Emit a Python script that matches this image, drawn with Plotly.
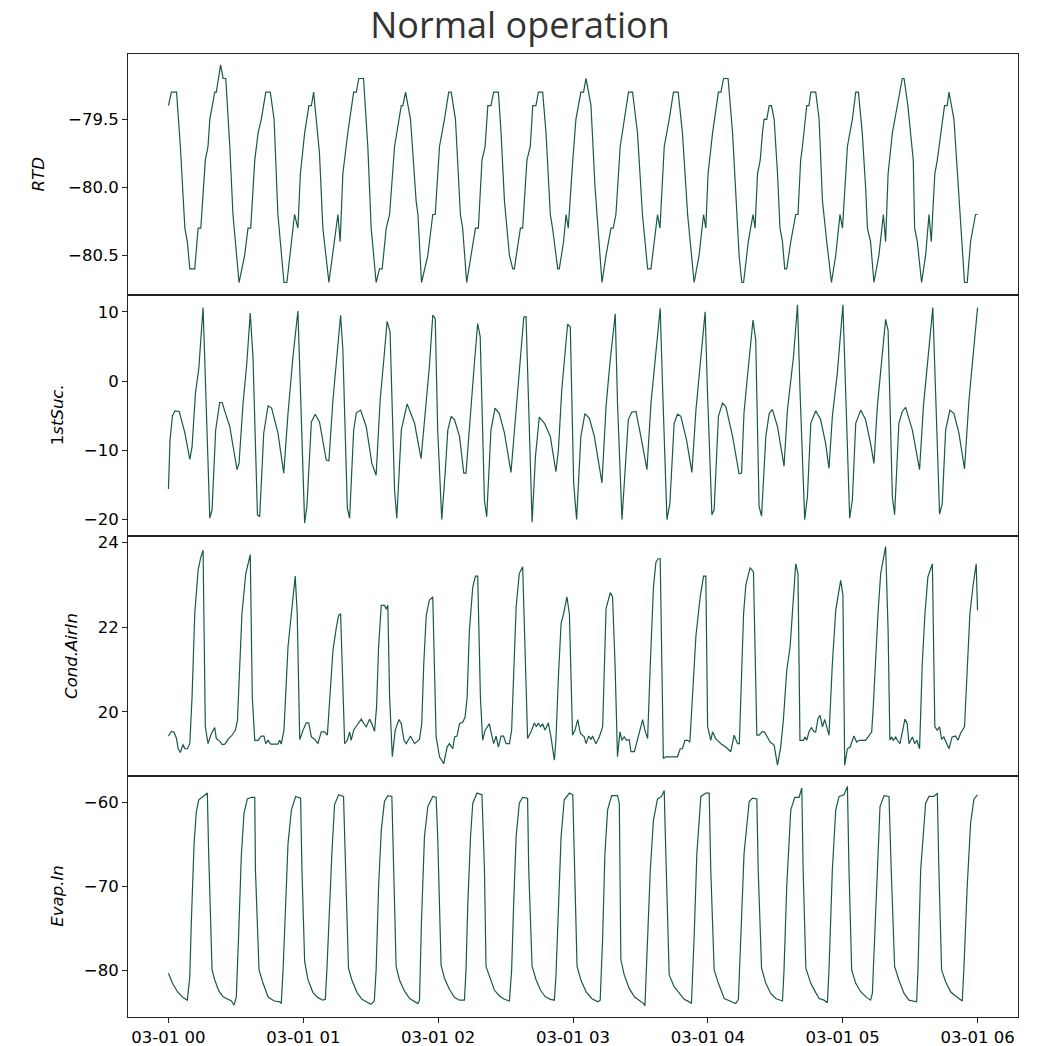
import pandas as pd
import plotly.graph_objects as go
from plotly.subplots import make_subplots

# ---------------- data (minutes after 03-01 00:00, values) ----------------
rtd_min = [0, 1.3, 3.6, 5.3, 7.3, 8.4, 9.5, 11.7, 13.2, 14.4, 16.4, 17.6, 18.4, 20.6, 21.3, 23.2, 24.3, 25.5,
           27.3, 28.7, 31.4, 33.9, 35.4, 36.6, 38.4, 39.9, 41.3, 43.3, 45.3, 47.0, 48.7, 51.4, 52.7, 54.7, 56.1,
           57.6, 58.7, 60.6, 62.5, 63.6, 64.6, 67.2, 68.7, 71.4, 73.9, 75.4, 76.4, 77.6, 79.8, 82.4, 83.6, 84.7,
           86.8, 88.7, 90.2, 92.4, 93.9, 95.1, 96.9, 98.4, 100.6, 103.6, 104.3, 105.5, 107.7, 110.2, 111.0, 112.6,
           115.4, 117.6, 118.7, 120.6, 122.8, 124.7, 125.8, 127.7, 129.9, 130.9, 132.7, 134.7, 136.6, 137.9,
           139.5, 140.9, 142.1, 143.5, 144.7, 146.8, 148.0, 149.5, 151.7, 153.2, 153.9, 156.6, 157.6, 159.5,
           161.0, 162.1, 163.5, 164.6, 166.5, 168.0, 169.9, 170.9, 173.2, 173.9, 175.8, 176.9, 177.9, 179.9,
           181.3, 183.5, 184.7, 185.8, 188.0, 189.8, 191.4, 192.9, 194.7, 196.9, 197.9, 199.1, 201.0, 202.8,
           204.7, 206.5, 208.7, 210.9, 213.2, 214.7, 216.1, 217.6, 218.7, 220.6, 222.8, 224.7, 226.8, 228.7,
           231.0, 233.9, 236.1, 238.1, 239.1, 240.1, 242.1, 244.7, 245.8, 247.0, 249.0, 251.0, 253.9, 255.1,
           255.9, 258.0, 260.1, 261.0, 262.1, 263.3, 264.3, 265.0, 266.2, 267.3, 268.3, 269.5, 271.0, 272.1,
           273.2, 274.2, 275.1, 276.9, 279.1, 280.1, 281.3, 282.1, 284.0, 285.0, 285.8, 288.0, 289.5, 291.0,
           292.9, 295.0, 296.9, 298.8, 299.9, 302.1, 304.3, 305.8, 307.0, 308.7, 310.2, 311.0, 312.4, 313.9,
           316.1, 318.1, 319.1, 320.2, 322.1, 324.3, 326.5, 327.3, 329.0, 331.4, 332.0, 333.2, 335.1, 336.9,
           338.4, 339.4, 341.0, 342.1, 343.6, 345.3, 346.5, 347.3, 349.5, 351.7, 352.4, 354.2, 355.4, 356.9,
           359.1, 360.0]
rtd_val = [-79.4, -79.3, -79.3, -79.7, -80.3, -80.4, -80.6, -80.6, -80.3, -80.3, -79.8, -79.7, -79.5, -79.3,
           -79.3, -79.1, -79.2, -79.2, -79.7, -80.2, -80.7, -80.5, -80.3, -80.3, -79.8, -79.6, -79.5, -79.3,
           -79.3, -79.5, -80.2, -80.7, -80.7, -80.4, -80.2, -80.3, -79.9, -79.6, -79.4, -79.4, -79.3, -79.75,
           -80.3, -80.7, -80.4, -80.2, -80.4, -79.9, -79.6, -79.3, -79.3, -79.2, -79.2, -79.7, -80.3, -80.7,
           -80.6, -80.6, -80.3, -80.2, -79.7, -79.4, -79.4, -79.3, -79.5, -80.1, -80.2, -80.7,
           -80.5, -80.2, -80.2, -79.7, -79.5, -79.3, -79.3, -79.5, -80.2, -80.3, -80.7, -80.5, -80.3, -80.3,
           -79.8, -79.7, -79.4, -79.4, -79.3, -79.3, -79.6, -80.1, -80.5, -80.6, -80.6, -80.3, -80.3, -79.8,
           -79.7, -79.4, -79.4, -79.3, -79.3, -79.6, -80.2, -80.3, -80.6, -80.6, -80.4, -80.2, -80.3, -79.8,
           -79.5, -79.3, -79.3, -79.2, -79.4, -80.0, -80.4, -80.7, -80.5, -80.3, -80.3, -80.2, -79.7, -79.5,
           -79.3, -79.3, -79.6, -80.2, -80.6, -80.6, -80.4, -80.2, -80.3, -79.7, -79.5, -79.3, -79.3, -79.6,
           -80.2, -80.7, -80.5, -80.2, -80.3, -79.9, -79.6, -79.3, -79.3, -79.2, -79.2, -79.6, -80.5, -80.7,
           -80.7, -80.4, -80.2, -80.3, -79.9, -79.8, -79.6, -79.5, -79.5, -79.4, -79.4, -79.5, -79.9, -80.3,
           -80.4, -80.6, -80.6, -80.4, -80.2, -80.2, -79.8, -79.7, -79.4, -79.4, -79.3, -79.3, -79.5, -80.1,
           -80.4, -80.7, -80.5, -80.2, -80.3, -79.7, -79.5, -79.3, -79.3, -79.6, -80.0, -80.3, -80.4, -80.7,
           -80.5, -80.2, -80.4, -79.9, -79.6, -79.4, -79.2, -79.2, -79.4, -79.8, -80.3, -80.4, -80.7, -80.5,
           -80.2, -80.4, -79.9, -79.8, -79.6, -79.4, -79.4, -79.3, -79.5, -80.1, -80.2, -80.7, -80.7, -80.4,
           -80.2, -80.2]

suc_min = [0, 0.7, 1.8, 2.9, 4.8, 7.3, 9.5, 10.5, 12.0, 13.5, 15.4, 16.9, 18.4, 19.4, 21.0, 22.8, 23.9, 25.8,
           27.3, 29.5, 30.5, 31.4, 33.2, 34.8, 36.4, 37.6, 39.6, 40.6, 42.4, 44.3, 45.9, 48.7, 51.3, 53.2, 55.4,
           57.6, 58.8, 60.6, 61.6, 63.6, 65.3, 67.2, 70.2, 71.4, 73.2, 75.1, 76.6, 77.6, 79.6, 80.6, 82.4, 83.6,
           85.5, 88.0, 90.5, 92.4, 94.2, 95.8, 97.3, 98.6, 100.6, 101.6, 103.6, 106.2, 109.5, 112.4, 114.7,
           116.1, 117.6, 118.7, 119.8, 121.6, 123.1, 124.3, 125.8, 127.3, 129.5, 131.4, 132.4, 134.7, 136.1,
           137.6, 138.7, 140.6, 141.6, 143.5, 145.3, 147.2, 149.5, 152.4, 154.7, 156.6, 158.1, 159.1, 160.3,
           161.8, 163.3, 165.0, 167.3, 169.9, 172.4, 173.5, 175.0, 177.6, 178.8, 180.3, 181.6, 183.5, 185.3,
           187.3, 189.5, 192.9, 194.7, 196.4, 198.8, 199.8, 201.8, 203.1, 204.6, 206.1, 208.0, 210.2, 212.9,
           214.7, 216.9, 218.8, 219.9, 221.8, 223.1, 225.0, 226.5, 228.0, 230.5, 232.9, 234.7, 236.9, 238.8,
           239.8, 241.8, 242.8, 244.7, 246.5, 248.0, 251.0, 253.9, 255.0, 256.1, 257.6, 260.1, 261.3, 262.8,
           263.9, 265.8, 267.3, 268.7, 271.0, 273.9, 275.4, 278.1, 279.9, 281.0, 283.1, 284.3, 285.8, 288.0,
           290.2, 292.4, 293.9, 295.4, 297.6, 300.1, 301.3, 303.1, 304.3, 305.8, 308.0, 310.2, 312.4, 313.9,
           315.4, 317.6, 319.1, 320.2, 322.1, 323.1, 325.0, 326.5, 328.0, 331.0, 334.2, 335.9, 337.6, 340.1,
           341.3, 343.1, 344.3, 345.8, 347.7, 349.5, 351.7, 354.2, 356.2, 358.4, 360.0]
suc_val = [-15.6, -8.5, -5.0, -4.3, -4.4, -7.5, -11.3, -9.5, -1.8, 1.8, 10.6, -6.1, -19.8, -18.6, -7.1, -3.1,
           -3.1, -5.1, -6.6, -10.9, -12.8, -11.9, -3.2, 2.3, 9.8, 3.5, -19.3, -19.6, -7.5, -3.6, -3.9, -7.5,
           -13.3, -4.7, 3.5, 10.1, -1.3, -20.5, -18.1, -5.9, -4.8, -5.9, -11.4, -11.5, -2.7, 4.0, 9.5, 4.5,
           -18.4, -19.8, -7.1, -4.6, -4.2, -6.6, -11.9, -13.6, -2.7, 3.0, 8.6, 7.1, -15.7, -19.8, -7.1, -3.3,
           -6.1, -11.2, -2.7, 2.1, 9.5, 9.0, -7.1, -20.0, -13.3, -7.1, -5.1, -5.6, -8.0, -13.3, -13.3, -2.7,
           2.5, 8.3, 6.4, -17.2, -19.6, -7.1, -3.9, -4.7, -7.5, -13.2, -3.7, 3.5, 9.2, 9.3, -5.6, -20.4, -10.9,
           -5.2, -6.1, -8.0, -13.1, -10.0, -1.3, 8.2, 7.8, -14.8, -20.0, -8.0, -4.7, -5.4, -8.0, -14.7, -3.7,
           2.5, 9.7, -3.2, -20.0, -12.8, -5.6, -4.5, -4.4, -8.0, -12.8, -3.2, 4.5, 10.5, -1.3, -20.0, -17.7,
           -6.1, -4.8, -5.1, -8.5, -13.2, -4.2, 3.5, 10.0, -1.3, -19.3, -18.6, -5.1, -3.2, -3.7, -8.0, -13.4,
           -13.3, -4.5, 0.6, 8.8, 5.9, -18.1, -19.5, -8.0, -4.7, -4.1, -6.6, -12.3, -4.2, 3.5, 11.0, -1.3,
           -20.0, -16.7, -6.1, -4.3, -5.6, -9.0, -12.6, -5.1, 1.1, 11.0, -1.3, -19.8, -17.2, -6.1, -4.2, -5.6,
           -9.0, -11.9, -3.7, 3.5, 8.9, 7.3, -16.7, -19.3, -6.1, -4.4, -3.8, -7.1, -12.8, -3.7, 2.1, 10.6,
           -1.3, -19.2, -17.7, -7.1, -4.2, -4.7, -7.5, -12.7, -2.7, 4.9, 10.6]

cond_min = [0, 1.3, 2.5, 3.6, 4.3, 5.3, 6.5, 7.3, 8.4, 9.5, 10.5, 11.7, 13.2, 14.4, 15.4, 16.4, 17.6, 19.1,
            20.6, 21.3, 22.8, 23.9, 25.1, 26.5, 28.3, 29.8, 30.7, 31.7, 32.7, 34.4, 35.4, 36.4, 37.3, 38.4,
            39.9, 41.3, 42.5, 43.3, 44.3, 45.5, 48.7, 49.5, 50.2, 51.4, 53.2, 54.7, 55.4, 56.4, 57.3, 58.4,
            59.9, 61.3, 62.4, 63.6, 65.1, 66.5, 68.0, 69.5, 70.7, 71.7, 73.2, 74.7, 75.7, 76.6, 77.6, 78.4,
            79.6, 80.6, 81.3, 82.4, 84.3, 85.8, 87.0, 88.0, 89.5, 90.5, 91.7, 92.6, 93.5, 94.7, 96.1, 96.9,
            97.6, 98.4, 99.6, 100.9, 102.6, 103.6, 104.8, 105.8, 107.7, 109.5, 111.7, 112.7, 113.6, 114.7,
            116.1, 117.6, 119.1, 120.6, 122.5, 124.0, 125.0, 126.5, 127.3, 128.4, 129.5, 131.0, 132.0, 132.9,
            133.9, 135.4, 136.6, 137.6, 138.8, 139.8, 140.9, 142.8, 143.5, 144.7, 145.8, 146.8, 148.0, 149.1,
            150.2, 151.7, 152.7, 153.6, 154.7, 156.1, 157.6, 159.8, 161.3, 162.8, 163.7, 164.6, 165.5, 166.5,
            167.5, 169.0, 170.2, 171.7, 172.4, 173.5, 174.7, 175.8, 177.3, 178.4, 179.1, 179.8, 180.9, 182.1,
            183.3, 185.0, 185.8, 187.0, 188.0, 188.7, 190.2, 191.7, 193.2, 193.9, 194.7, 196.6, 197.6, 198.7,
            199.8, 200.9, 201.8, 202.8, 203.9, 205.0, 205.8, 207.3, 209.5, 211.0, 212.0, 213.2, 214.4, 215.8,
            216.9, 217.9, 218.8, 219.4, 220.2, 221.3, 226.5, 227.7, 228.7, 229.8, 231.0, 232.0, 233.2, 234.7,
            236.6, 238.1, 239.1, 239.9, 241.3, 242.1, 243.5, 245.8, 248.0, 249.5, 250.2, 251.7, 253.2, 254.0,
            254.7, 255.9, 256.9, 258.4, 258.8, 260.3, 261.8, 262.8, 264.3, 265.3, 266.5, 267.7, 268.7, 269.5,
            271.0, 272.4, 273.6, 275.1, 276.6, 277.6, 279.1, 280.1, 281.0, 282.5, 283.3, 284.0, 285.0, 286.1,
            287.3, 288.0, 289.0, 289.9, 291.0, 292.0, 292.9, 293.9, 295.4, 296.9, 299.1, 300.1, 300.9, 302.1,
            303.3, 305.0, 306.2, 307.3, 310.2, 311.7, 312.9, 313.6, 314.7, 315.7, 316.9, 319.1, 320.2, 321.0,
            321.8, 322.5, 323.6, 324.3, 325.5, 326.5, 327.7, 328.7, 329.5, 331.0, 332.0, 333.0, 334.2, 335.4,
            336.6, 337.9, 339.9, 341.0, 342.1, 343.1, 344.0, 345.0, 346.5, 347.3, 348.7, 350.2, 351.3, 352.4,
            354.2, 355.4, 356.6, 358.1, 359.4, 360.0]
cond_val = [19.43, 19.54, 19.52, 19.37, 19.13, 19.04, 19.23, 19.13, 19.13, 19.25, 20.35, 22.32, 23.35, 23.66,
            23.82, 19.65, 19.25, 19.49, 19.63, 19.37, 19.31, 19.23, 19.24, 19.35, 19.45, 19.57, 19.8, 21.14,
            22.32, 23.27, 23.5, 23.72, 20.35, 19.33, 19.33, 19.43, 19.43, 19.25, 19.33, 19.24, 19.24, 19.33,
            19.24, 19.57, 21.54, 22.4, 22.72, 23.21, 22.32, 19.35, 19.57, 19.74, 19.74, 19.41, 19.35, 19.25,
            19.53, 19.53, 19.45, 20.2, 21.46, 22.0, 22.28, 22.32, 20.35, 19.25, 19.33, 19.53, 19.33, 19.57,
            19.72, 19.83, 19.72, 19.65, 19.83, 19.72, 19.54, 20.12, 21.54, 22.52, 22.52, 22.43, 22.52, 20.35,
            18.94, 19.57, 19.82, 19.72, 19.33, 19.25, 19.43, 19.25, 19.35, 19.72, 21.14, 22.28, 22.64, 22.72,
            19.41, 18.94, 18.78, 19.17, 19.25, 19.13, 19.41, 19.43, 19.72, 19.76, 19.88, 20.35, 21.93, 22.95,
            23.21, 23.21, 20.35, 19.33, 19.57, 19.72, 19.53, 19.25, 19.43, 19.17, 19.43, 19.43, 19.25, 19.25,
            19.57, 21.14, 22.48, 23.27, 23.43, 19.37, 19.53, 19.74, 19.65, 19.74, 19.65, 19.72, 19.57, 19.74,
            19.41, 18.86, 19.33, 20.83, 22.09, 22.32, 22.72, 22.32, 20.51, 19.45, 19.57, 19.82, 19.49, 19.41,
            19.25, 19.43, 19.35, 19.43, 19.25, 19.41, 19.65, 21.14, 22.44, 22.82, 22.72, 21.14, 18.94, 19.53,
            19.33, 19.41, 19.33, 19.35, 19.06, 19.06, 19.49, 19.82, 19.57, 19.37, 21.14, 22.95, 23.54, 23.62,
            23.62, 21.14, 18.9, 18.94, 18.94, 19.13, 19.13, 19.33, 19.33, 19.29, 20.35, 21.8, 22.72, 23.21,
            23.21, 19.65, 19.33, 19.53, 19.37, 19.25, 19.17, 19.09, 19.06, 19.45, 19.25, 19.25, 20.35, 22.32,
            23.0, 23.39, 23.41, 23.31, 19.45, 19.45, 19.54, 19.52, 19.41, 19.29, 19.25, 19.21, 18.74, 19.17,
            19.8, 20.98, 21.54, 22.32, 23.5, 23.27, 19.33, 19.33, 19.41, 19.33, 19.53, 19.63, 19.53, 19.53,
            19.84, 19.92, 19.65, 19.82, 19.65, 19.45, 21.14, 22.4, 23.11, 22.76, 18.74, 19.13, 19.17, 19.43,
            19.29, 19.33, 19.33, 19.43, 19.53, 20.12, 21.3, 22.32, 23.27, 23.91, 21.93, 19.33, 19.41, 19.33,
            19.41, 19.33, 19.25, 19.49, 19.83, 19.72, 19.25, 19.41, 19.25, 19.33, 19.13, 21.14, 22.32, 23.19,
            23.5, 19.65, 19.57, 19.65, 19.35, 19.41, 19.21, 19.13, 19.41, 19.43, 19.33, 19.49, 19.65, 21.14,
            22.32, 23.03, 23.5, 22.4]

evap_min = [0, 1.8, 4.0, 6.5, 8.4, 9.5, 10.2, 11.4, 12.4, 13.5, 15.4, 17.3, 17.9, 19.4, 20.6, 22.4, 24.3, 26.2,
            28.0, 29.2, 30.2, 31.3, 32.4, 33.6, 35.1, 36.9, 38.4, 38.7, 40.3, 42.1, 44.3, 45.8, 47.2, 49.5, 50.2,
            51.0, 52.0, 53.2, 54.7, 56.6, 58.8, 59.4, 60.6, 62.1, 64.3, 66.5, 68.7, 69.8, 70.5, 71.7, 72.7, 73.9,
            75.7, 77.9, 78.6, 80.1, 81.6, 83.9, 86.1, 88.4, 90.1, 91.6, 92.4, 93.5, 94.7, 96.1, 97.6, 99.4,
            100.3, 101.3, 102.8, 105.0, 107.3, 109.5, 111.0, 111.7, 112.6, 113.9, 115.4, 117.6, 119.1, 119.8,
            121.3, 122.8, 125.0, 127.3, 129.5, 131.7, 132.4, 133.2, 134.4, 135.4, 137.3, 139.5, 140.6, 141.3,
            143.3, 145.0, 147.3, 149.5, 151.7, 152.7, 153.6, 154.7, 156.1, 157.6, 159.8, 160.3, 161.8, 163.6,
            165.5, 167.7, 170.0, 171.7, 172.4, 173.5, 174.7, 176.1, 178.4, 179.9, 180.6, 181.8, 183.5, 185.8,
            188.3, 191.0, 192.1, 193.2, 194.2, 195.4, 197.2, 199.8, 200.6, 201.3, 202.8, 205.0, 207.3, 209.5,
            211.4, 212.0, 213.2, 214.4, 215.8, 217.6, 219.4, 220.6, 220.9, 222.1, 222.8, 225.0, 227.3, 229.5,
            231.7, 232.7, 233.9, 235.1, 236.9, 239.1, 240.6, 241.3, 242.8, 244.7, 247.3, 249.5, 252.4, 253.6,
            254.7, 256.1, 258.4, 259.9, 261.8, 262.4, 263.9, 265.8, 268.0, 270.2, 273.2, 273.9, 275.1, 276.9,
            278.7, 280.6, 281.8, 282.4, 283.6, 285.8, 288.0, 289.5, 291.7, 293.2, 293.9, 295.4, 296.9, 298.4,
            300.6, 302.1, 302.8, 304.0, 305.8, 308.0, 310.7, 312.4, 313.2, 314.7, 316.6, 318.4, 320.6, 321.6,
            323.1, 325.0, 327.3, 329.5, 332.9, 333.5, 334.7, 336.9, 338.4, 340.6, 342.1, 342.8, 344.0, 345.8,
            348.0, 350.2, 353.2, 353.9, 355.4, 356.9, 358.4, 360.0]
evap_val = [-80.3, -81.5, -82.5, -83.2, -83.5, -80.7, -74.0, -64.9, -61.1, -59.7, -59.3, -58.9, -66.1, -79.9,
            -81.1, -82.4, -83.1, -83.4, -83.6, -84.1, -83.1, -75.2, -66.5, -61.3, -59.6, -59.4, -59.4, -68.0,
            -79.9, -81.5, -83.1, -83.4, -83.6, -83.7, -83.9, -79.9, -72.0, -64.9, -60.9, -59.3, -59.5, -68.0,
            -78.9, -81.1, -82.6, -83.2, -83.5, -83.4, -79.9, -72.0, -66.1, -60.3, -59.1, -59.3, -66.1, -79.7,
            -81.1, -82.6, -83.4, -83.7, -84.0, -83.6, -79.9, -70.0, -63.3, -59.9, -59.2, -59.3, -68.0, -79.5,
            -81.1, -82.4, -83.3, -83.6, -83.9, -83.5, -74.0, -64.1, -60.5, -59.3, -59.4, -64.1, -79.3, -80.9,
            -82.2, -83.2, -83.5, -83.5, -79.9, -72.0, -64.1, -60.1, -58.9, -59.1, -68.0, -79.5, -81.1, -82.3,
            -83.0, -83.4, -83.6, -79.9, -72.0, -64.1, -60.1, -59.4, -59.5, -68.0, -79.5, -81.1, -82.3, -83.1,
            -83.4, -83.5, -80.7, -72.0, -64.1, -59.7, -58.9, -59.1, -68.0, -79.5, -81.1, -82.5, -83.3, -83.7,
            -83.5, -76.0, -66.1, -60.9, -59.2, -59.2, -60.1, -78.7, -80.5, -82.1, -83.1, -83.5, -83.9, -84.2,
            -76.0, -68.0, -62.1, -59.6, -59.3, -58.6, -62.1, -76.2, -80.5, -81.9, -82.6, -83.4, -83.7, -83.9,
            -76.0, -66.1, -59.3, -58.9, -58.9, -68.0, -79.9, -81.5, -83.3, -83.6, -83.9, -83.4, -76.0, -66.1,
            -59.9, -59.5, -59.6, -68.0, -79.7, -81.5, -82.7, -83.3, -83.6, -79.9, -70.0, -60.9, -59.4, -59.4,
            -58.3, -68.0, -79.7, -81.5, -82.6, -83.3, -83.5, -83.8, -79.9, -68.0, -60.9, -59.3, -59.1, -58.1,
            -68.0, -79.9, -81.5, -82.5, -83.2, -83.5, -82.7, -72.0, -60.5, -59.2, -59.3, -68.0, -79.5, -81.1,
            -82.7, -83.5, -83.7, -79.9, -68.0, -60.1, -59.3, -59.3, -58.9, -68.0, -79.9, -81.3, -82.5, -83.0,
            -83.6, -79.9, -70.0, -62.5, -59.6, -59.1]

labels = ["RTD", "1stSuc.", "Cond.AirIn", "Evap.In"]
label_html = ["<i>RTD</i>", "1<i>stSuc.</i>", "<i>Cond.AirIn</i>", "<i>Evap.In</i>"]
y_ranges = [[-80.79, -79.02], [-22.3, 12.45], [18.48, 24.17], [-85.5, -56.9]]
y_ticks = [[-80.5, -80.0, -79.5], [-20, -10, 0, 10], [20, 22, 24], [-80, -70, -60]]
y_fmt = [".1f", "d", "d", "d"]
label_x_px = [38, 57, 72, 58]
title = "Normal operation"

# ---------------- figure ----------------
base = pd.Timestamp("2021-03-01 00:00")
def to_time(mins):
    return base + pd.to_timedelta(mins, unit="min")

W, H = 1040, 1046
ML, MR, MT, MB = 128, 22, 54, 29
line_color = "#17594a"

fig = make_subplots(rows=4, cols=1, shared_xaxes=True, vertical_spacing=0)
series = [(rtd_min, rtd_val), (suc_min, suc_val), (cond_min, cond_val), (evap_min, evap_val)]
for i, (m, v) in enumerate(series):
    fig.add_trace(go.Scatter(x=to_time(m), y=v, mode="lines",
                             line=dict(color=line_color, width=1.2),
                             showlegend=False, hoverinfo="skip"), row=i + 1, col=1)

font_family = "DejaVu Sans"
x_range = [to_time(-18), to_time(378)]
for i in range(4):
    ax = dict(showline=True, mirror=True, linecolor="#222", linewidth=1.1,
              showgrid=False, zeroline=False, range=x_range, automargin=False)
    if i == 3:
        ax.update(ticks="outside", ticklen=5, tickwidth=1, tickcolor="#222",
                  tickformat="%m-%d %H", dtick=3600000, tick0=base,
                  tickfont=dict(family=font_family, size=16.5, color="black"))
    else:
        ax.update(ticks="", showticklabels=False)
    fig.update_xaxes(ax, row=i + 1, col=1)
    fig.update_yaxes(dict(showline=True, mirror=True, linecolor="#222", linewidth=1.1,
                          showgrid=False, zeroline=False, range=y_ranges[i], automargin=False,
                          tickmode="array", tickvals=y_ticks[i], tickformat=y_fmt[i],
                          ticks="outside", ticklen=5, tickwidth=1, tickcolor="#222",
                          tickfont=dict(family=font_family, size=16.5, color="black")),
                     row=i + 1, col=1)

plot_w = W - ML - MR
for i in range(4):
    yc = 1 - (i + 0.5) / 4
    fig.add_annotation(text=label_html[i], xref="paper", yref="paper",
                       x=(label_x_px[i] - ML) / plot_w, y=yc, xanchor="center", yanchor="middle",
                       textangle=-90, showarrow=False,
                       font=dict(family=font_family, size=16.5, color="black"))

fig.update_layout(
    width=W, height=H, margin=dict(l=ML, r=MR, t=MT, b=MB, autoexpand=False),
    paper_bgcolor="white", plot_bgcolor="white",
    title=dict(text=title, x=0.5, xref="container", xanchor="center", y=1 - 25 / H, yref="container",
               yanchor="middle", font=dict(family="Open Sans", size=36, color="#333")),
)

fig.write_html("out.html", config={"displayModeBar": False},
               post_script="document.body.style.margin='0';")
